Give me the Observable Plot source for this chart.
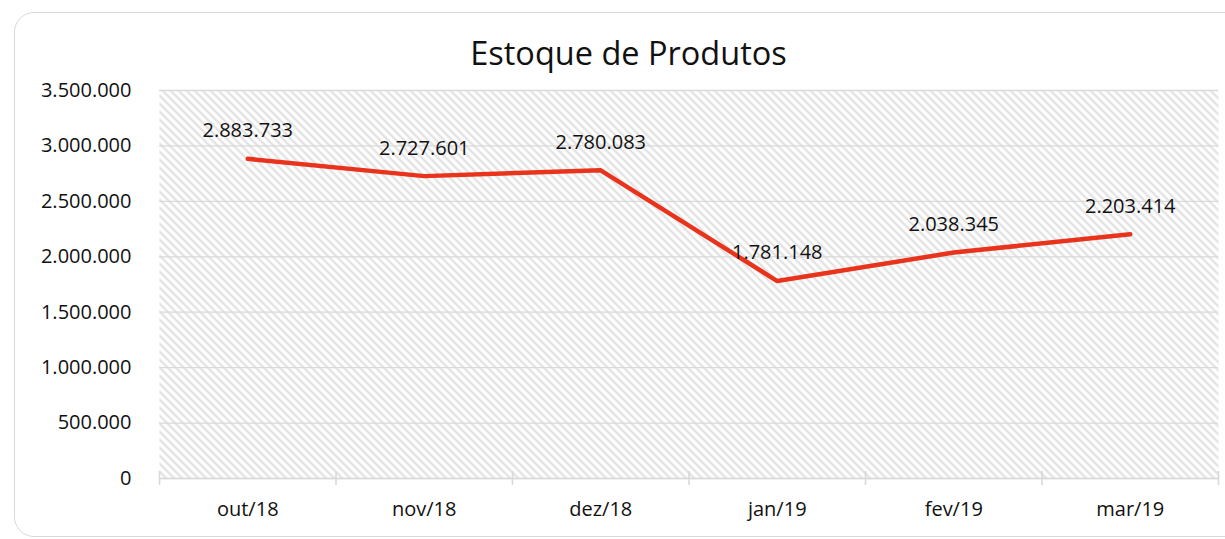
<!DOCTYPE html>
<html>
<head>
<meta charset="utf-8">
<script src="https://cdn.jsdelivr.net/npm/d3@7"></script>
<script src="https://cdn.jsdelivr.net/npm/@observablehq/plot@0.6"></script>
<style>
  html, body { margin: 0; padding: 0; background: #fff; }
  #wrap { position: relative; width: 1225px; height: 539px; overflow: hidden; font-family: "Open Sans", "Noto Sans", sans-serif; }
  #card { position: absolute; left: 14px; top: 12px; width: 1240px; height: 525px; border: 1.5px solid #d9d9d9; border-radius: 20px; box-sizing: border-box; }
  #title { position: absolute; left: 0; width: 1257px; top: 33px; text-align: center; font-size: 32.5px; color: #111; line-height: 1.2; }
  #chart { position: absolute; left: 0; top: 0; }
</style>
</head>
<body>
<div id="wrap">
  <div id="card"></div>
  <div id="chart"></div>
  <div id="title">Estoque de Produtos</div>
</div>
<script>
const months = ["out/18", "nov/18", "dez/18", "jan/19", "fev/19", "mar/19"];
const stock = [2883733, 2727601, 2780083, 1781148, 2038345, 2203414];
const yTicks = [0, 500000, 1000000, 1500000, 2000000, 2500000, 3000000, 3500000];

const data = months.map((m, i) => ({i, month: m, value: stock[i]}));
const fmt = d3.formatLocale({decimal: ",", thousands: ".", grouping: [3], currency: ["", ""]}).format(",d");
const boundaries = d3.range(months.length + 1).map(k => k - 0.5);
const grid = "#d9d9d9";

const chart = Plot.plot({
  width: 1225,
  height: 539,
  marginLeft: 159,
  marginRight: 7,
  marginTop: 90,
  marginBottom: 61,
  style: {fontFamily: "'Open Sans', 'Noto Sans', sans-serif", fontSize: "20px", color: "#111", background: "transparent", overflow: "visible"},
  x: {type: "linear", domain: [-0.5, months.length - 0.5], label: null},
  y: {domain: [0, 3500000], label: null},
  marks: [
    Plot.frame({fill: "url(#hatch)", stroke: null}),
    Plot.gridY(yTicks, {stroke: grid, strokeOpacity: 1, strokeWidth: 1.3}),
    Plot.ruleY([0], {stroke: grid, strokeWidth: 1.6}),
    Plot.axisX(boundaries, {tickSize: 14, text: null, stroke: grid, strokeWidth: 1.6, dy: -7, label: null}),
    Plot.axisX(d3.range(months.length), {tickSize: 0, tickPadding: 23, tickFormat: i => months[i], fontSize: 20, fill: "#111", label: null}),
    Plot.axisY(yTicks, {tickSize: 0, tickPadding: 28, tickFormat: fmt, fontSize: 20, fill: "#111", label: null}),
    Plot.line(data, {x: "i", y: "value", stroke: "#e8341c", strokeWidth: 4.5, strokeLinejoin: "round", strokeLinecap: "round"}),
    Plot.text(data, {x: "i", y: "value", text: d => fmt(d.value), dy: -28, fontSize: 20, fill: "#111"})
  ]
});

const svg = d3.select(chart);
const defs = svg.insert("defs", ":first-child");
const pat = defs.append("pattern")
  .attr("id", "hatch")
  .attr("patternUnits", "userSpaceOnUse")
  .attr("width", 8).attr("height", 8);
pat.append("rect").attr("width", 8).attr("height", 8).attr("fill", "#fff");
pat.append("path")
  .attr("d", "M-2,-2 L10,10 M-2,6 L2,10 M6,-2 L10,2")
  .attr("stroke", "#e0e0e0")
  .attr("stroke-width", 2.2);

document.getElementById("chart").appendChild(chart);
</script>
</body>
</html>
